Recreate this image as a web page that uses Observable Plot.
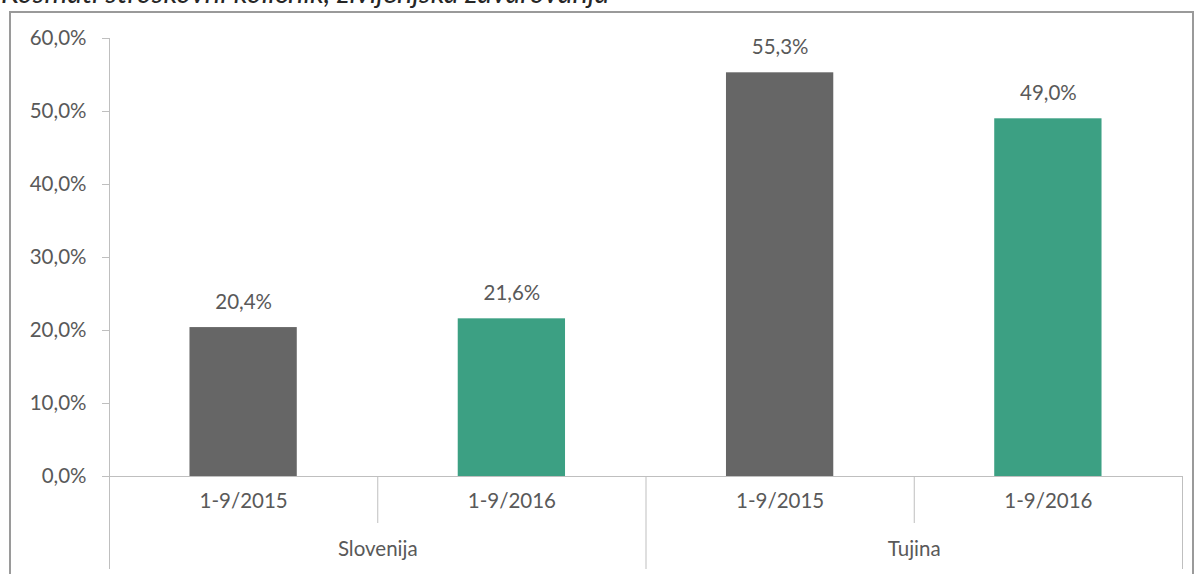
<!DOCTYPE html>
<html><head><meta charset="utf-8">
<script src="https://cdn.jsdelivr.net/npm/d3@7"></script>
<script src="https://cdn.jsdelivr.net/npm/@observablehq/plot@0.6"></script>
<style>
body{margin:0;background:#fff;overflow:hidden}
#wrap{position:relative;width:1195px;height:574px;overflow:hidden}
#title{position:absolute;left:1px;top:-26px;font:italic 29px Lato;line-height:normal;color:#262626;white-space:nowrap}
#frame{position:absolute;left:9px;top:11px;width:1185px;height:700px;border:2px solid #9a9a9a;box-sizing:border-box}
#chart{position:absolute;left:0;top:0}
</style></head>
<body><div id="wrap"><div id="title">Kosmati stroškovni količnik, življenjska zavarovanja</div><div id="frame"></div><div id="chart"></div></div>
<script>
const groups = ["Slovenija", "Slovenija", "Tujina", "Tujina"];
const periods = ["1-9/2015", "1-9/2016", "1-9/2015", "1-9/2016"];
const values = [20.4, 21.6, 55.3, 49.0];
const groupNames = ["Slovenija", "Tujina"];
const seriesNames = ["1-9/2015", "1-9/2016"];
const seriesColors = ["#666666", "#3ca083"];
const yTicks = [0, 10, 20, 30, 40, 50, 60];

const data = values.map((v, i) => ({i, group: groups[i], period: periods[i], value: v}));
const fmt = d => d.toFixed(1).replace(".", ",") + "%";
const grid = "#bfbfbf";
const txt = "#595959";

const chart = Plot.plot({
  width: 1195, height: 574,
  marginLeft: 109, marginRight: 13, marginTop: 38, marginBottom: 98,
  x: {domain: [0, values.length], axis: null},
  y: {domain: [0, 60], axis: null},
  color: {domain: seriesNames, range: seriesColors},
  style: {fontFamily: "Lato", fontSize: "20.5px", color: txt, background: "transparent"},
  marks: [
    Plot.rectY(data, {x1: d => d.i + 0.3, x2: d => d.i + 0.7, y: "value", fill: "period"}),
    Plot.ruleY([0], {stroke: grid}),
    Plot.axisY({ticks: yTicks, tickSize: 7, tickPadding: 16, tickFormat: fmt, label: null, stroke: grid, fill: txt, fontSize: 20.5}),
    Plot.ruleX([0], {y1: 0, y2: 60, stroke: grid}),
    Plot.ruleX(d3.range(0, values.length + 1, 2), {y1: 0, stroke: grid, insetBottom: -93}),
    Plot.ruleX(d3.range(1, values.length, 2), {y1: 0, stroke: grid, insetBottom: -47}),
    Plot.text(data, {x: d => d.i + 0.5, frameAnchor: "bottom", text: "period", dy: 31, fill: txt}),
    Plot.text(groupNames, {x: (d, j) => j * 2 + 1, frameAnchor: "bottom", text: d => d, dy: 79, fill: txt}),
    Plot.text(data, {x: d => d.i + 0.5, y: "value", text: d => fmt(d.value), lineAnchor: "bottom", dy: -19, fill: txt})
  ]
});
document.getElementById("chart").append(chart);
</script>
</body></html>
